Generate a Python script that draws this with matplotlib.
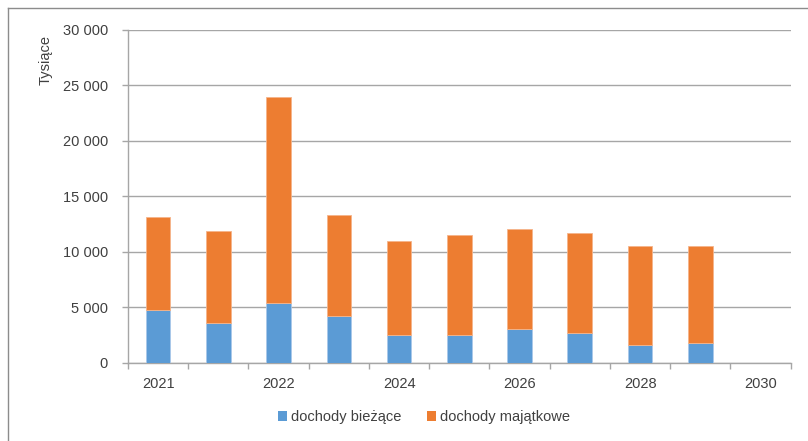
import matplotlib
matplotlib.use("Agg")
import matplotlib.pyplot as plt
from matplotlib.patches import Patch
from matplotlib.lines import Line2D
import numpy as np

plt.rcParams['font.family'] = ['Liberation Sans', 'DejaVu Sans']

# data
categories = ["2021", "2021a", "2022", "2023", "2024", "2025", "2026", "2027", "2028", "2029", "2030"]
tick_labels = ["2021", "", "2022", "", "2024", "", "2026", "", "2028", "", "2030"]
biezace = [4750, 3600, 5350, 4200, 2500, 2500, 3000, 2700, 1550, 1800, 0]
majatkowe = [8400, 8300, 18550, 9100, 8500, 9000, 9000, 8950, 8950, 8700, 0]
series_names = ["dochody bieżące", "dochody majątkowe"]
colors = ["#5B9BD5", "#ED7D31"]
edge_colors = ["#A9C8EA", "#F6B48A"]
yticks = [0, 5000, 10000, 15000, 20000, 25000, 30000]

W, H = 808, 441
fig = plt.figure(figsize=(W / 100, H / 100), dpi=100)
ax = fig.add_axes([128 / W, 1 - 362.7 / H, (790.7 - 128) / W, (362.7 - 29.7) / H])

x = np.arange(len(categories))
ax.bar(x, biezace, width=0.41, color=colors[0], edgecolor=edge_colors[0], linewidth=0.6, zorder=3)
ax.bar(x, majatkowe, width=0.41, bottom=biezace, color=colors[1], edgecolor=edge_colors[1], linewidth=0.6, zorder=3)

ax.set_xlim(-0.5, len(categories) - 0.5)
ax.set_ylim(0, 30000)
ax.set_yticks(yticks)
ax.set_yticklabels([f"{v:,}".replace(",", " ") for v in yticks], fontsize=10.5, color="#404040")
ax.yaxis.grid(True, color="#A6A6A6", linewidth=1.0, zorder=0)

ax.set_xticks(x)
ax.set_xticklabels(tick_labels, fontsize=10.5, color="#404040")
ax.set_xticks(np.arange(-0.5, len(categories), 1.0), minor=True)
ax.tick_params(axis="x", which="major", length=0, pad=10.5)
ax.tick_params(axis="x", which="minor", length=4.5, width=1, color="#A6A6A6", direction="out")
ax.tick_params(axis="y", length=4.5, width=1, color="#A6A6A6", pad=10)

for s in ["top", "right"]:
    ax.spines[s].set_visible(False)
for s in ["left", "bottom"]:
    ax.spines[s].set_color("#A6A6A6")
    ax.spines[s].set_linewidth(1.0)

fig.text(46 / W, 1 - 60 / H, "Tysiące", rotation=90, ha="center", va="center",
         fontsize=10.5, color="#404040")

handles = [Patch(facecolor=colors[0], edgecolor="none"), Patch(facecolor=colors[1], edgecolor="none")]
fig.legend(handles, series_names, loc="center", bbox_to_anchor=(424 / W, 1 - 417 / H), ncol=2,
           frameon=False, fontsize=10.5, handlelength=0.65, handleheight=0.65,
           handletextpad=0.3, columnspacing=1.7, labelcolor="#404040")

# outer chart frame (cropped at right and bottom)
fig.add_artist(Line2D([8 / W, 8 / W], [0, 1 - 8 / H], transform=fig.transFigure, color="#8C8C8C", linewidth=1.0))
fig.add_artist(Line2D([8 / W, 1], [1 - 8 / H, 1 - 8 / H], transform=fig.transFigure, color="#8C8C8C", linewidth=1.0))

fig.savefig("out.png", dpi=100)
